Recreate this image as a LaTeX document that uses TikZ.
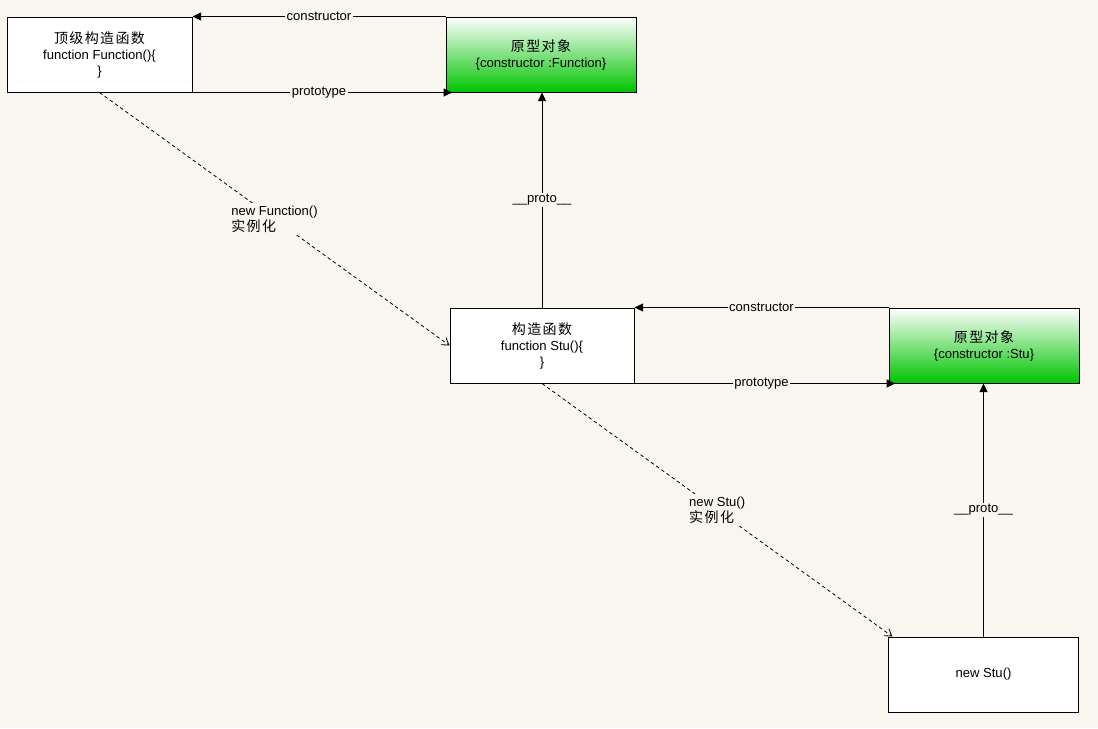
\documentclass[tikz,border=0pt]{standalone}
\usepackage{fontspec}
\setmainfont{Liberation Sans}
\newfontfamily\cjk[LetterSpace=10]{Noto Sans CJK SC}
\usetikzlibrary{arrows.meta}
\definecolor{bg}{RGB}{249,246,239}
\definecolor{grn}{RGB}{0,196,0}
\newcommand{\cn}[1]{{\cjk\fontsize{10.5pt}{14pt}\selectfont #1}}
\begin{document}
\begin{tikzpicture}[x=0.75pt,y=-0.75pt,
  font=\fontsize{9.8pt}{12pt}\selectfont,
  box/.style={draw=black,line width=0.75pt,fill=white,inner sep=0pt,align=center,
    minimum height=56.25pt},
  wbox/.style={box,minimum width=138.75pt},
  gbox/.style={box,minimum width=142.5pt,top color=white,bottom color=grn},
  arr/.style={line width=0.75pt,-{Triangle[length=6.5pt,width=6pt]}},
  inst/.style={line width=0.6pt,dash pattern=on 2.6pt off 2.2pt,
    -{Straight Barb[length=5pt,width=6.5pt,line width=0.6pt]}},
  lbl/.style={fill=bg,inner sep=1pt},
  ilbl/.style={fill=bg,inner sep=2pt,align=left}]
\useasboundingbox[fill=bg] (0,0) rectangle (1098,728);

\node[wbox] (A) at (99.5,54.5) {\cn{顶级构造函数}\\function Function()\{\\\}};
\node[gbox] (B) at (541,54.5) {\cn{原型对象}\\\{constructor :Function\}};
\node[box,minimum width=138pt] (C) at (542,345.5) {\cn{构造函数}\\function Stu()\{\\\}};
\node[gbox] (D) at (984,345.5) {\cn{原型对象}\\\{constructor :Stu\}};
\node[box,minimum width=142pt] (E) at (983.5,674.5) {new Stu()};

\draw[arr] (B.north west) -- node[lbl]{constructor} (A.north east);
\draw[arr,shorten >=-5pt] (A.south east) -- node[lbl]{prototype} (B.south west);
\draw[arr] (C.north) -- node[lbl]{\_\_proto\_\_} (C.north |- B.south);

\draw[arr] (D.north west) -- node[lbl]{constructor} (C.north east);
\draw[arr,shorten >=-5pt] (C.south east) -- node[lbl]{prototype} (D.south west);
\draw[arr] (E.north) -- node[lbl]{\_\_proto\_\_} (E.north |- D.south);

\draw[inst] (A.south) -- node[ilbl]{new Function()\\\cn{实例化}} (C.west);
\draw[inst] (C.south) -- node[ilbl]{new Stu()\\\cn{实例化}} ([xshift=3pt]E.north west);
\end{tikzpicture}
\end{document}
